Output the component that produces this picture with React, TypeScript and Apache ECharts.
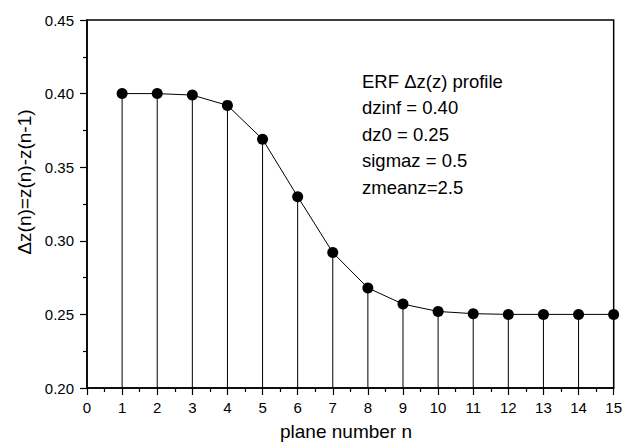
import React, { useEffect, useRef } from "react";
import * as echarts from "echarts";

const planes = [1, 2, 3, 4, 5, 6, 7, 8, 9, 10, 11, 12, 13, 14, 15];
const dzValues = [0.4, 0.4, 0.399, 0.392, 0.369, 0.33, 0.292, 0.268, 0.257, 0.252, 0.2505, 0.25, 0.25, 0.25, 0.25];
const xMin = 0;
const xMax = 15;
const yMin = 0.2;
const yMax = 0.45;
const annotationLines = [
  "ERF \u0394z(z) profile",
  "dzinf = 0.40",
  "dz0 = 0.25",
  "sigmaz = 0.5",
  "zmeanz=2.5",
];
const xTitle = "plane number n";
const yTitle = "\u0394z(n)=z(n)-z(n-1)";

const FONT = "'Liberation Sans', Arial, sans-serif";

export default function App() {
  const ref = useRef<HTMLDivElement>(null);
  useEffect(() => {
    if (!ref.current) return;
    const chart = echarts.init(ref.current, undefined, { renderer: "svg" });
    const pts = planes.map((n, i) => [n, dzValues[i]]);
    chart.setOption({
      animation: false,
      backgroundColor: "#fff",
      grid: {
        left: 87,
        right: 8,
        top: 20,
        bottom: 55,
        show: true,
        borderColor: "#000",
        borderWidth: 1.5,
        backgroundColor: "transparent",
      },
      xAxis: {
        type: "value",
        min: xMin,
        max: xMax,
        interval: 1,
        axisLine: { show: true, lineStyle: { color: "#000", width: 1.5 } },
        axisTick: { show: true, length: 7, inside: false, lineStyle: { color: "#000", width: 1.2 } },
        minorTick: { show: true, splitNumber: 2, length: 4, lineStyle: { color: "#000", width: 1.2 } },
        splitLine: { show: false },
        axisLabel: { color: "#000", fontSize: 15, fontFamily: FONT, margin: 12 },
      },
      yAxis: {
        type: "value",
        min: yMin,
        max: yMax,
        interval: 0.05,
        axisLine: { show: true, lineStyle: { color: "#000", width: 1.5 } },
        axisTick: { show: true, length: 7, inside: false, lineStyle: { color: "#000", width: 1.2 } },
        minorTick: { show: true, splitNumber: 2, length: 4, lineStyle: { color: "#000", width: 1.2 } },
        splitLine: { show: false },
        axisLabel: {
          color: "#000",
          fontSize: 15,
          fontFamily: FONT,
          margin: 13,
          formatter: (v: number) => v.toFixed(2),
        },
      },
      series: [
        {
          type: "custom",
          data: pts,
          encode: { x: 0, y: 1 },
          z: 1,
          renderItem: (_params: any, api: any) => {
            const p = api.coord([api.value(0), api.value(1)]);
            const b = api.coord([api.value(0), yMin]);
            return {
              type: "line",
              shape: { x1: p[0], y1: p[1], x2: b[0], y2: b[1] },
              style: { stroke: "#000", lineWidth: 1 },
            };
          },
        },
        {
          type: "line",
          data: pts,
          z: 3,
          symbol: "circle",
          symbolSize: 11,
          itemStyle: { color: "#000" },
          lineStyle: { color: "#000", width: 1 },
        },
      ],
      graphic: [
        {
          type: "text",
          left: 362,
          top: 68,
          style: {
            text: annotationLines.join("\n"),
            fontSize: 18.5,
            lineHeight: 26.5,
            fontFamily: FONT,
            fill: "#000",
          },
        },
        {
          type: "text",
          x: 346,
          y: 431,
          style: {
            text: xTitle,
            fontSize: 19,
            fontFamily: FONT,
            fill: "#000",
            align: "center",
            verticalAlign: "middle",
          },
        },
        {
          type: "text",
          x: 24,
          y: 182,
          rotation: Math.PI / 2,
          style: {
            text: yTitle,
            fontSize: 19,
            fontFamily: FONT,
            fill: "#000",
            align: "center",
            verticalAlign: "middle",
          },
        },
      ],
    });
    return () => chart.dispose();
  }, []);
  return (
    <div
      ref={ref}
      style={{ position: "fixed", left: 0, top: 0, width: 625, height: 443 }}
    />
  );
}
